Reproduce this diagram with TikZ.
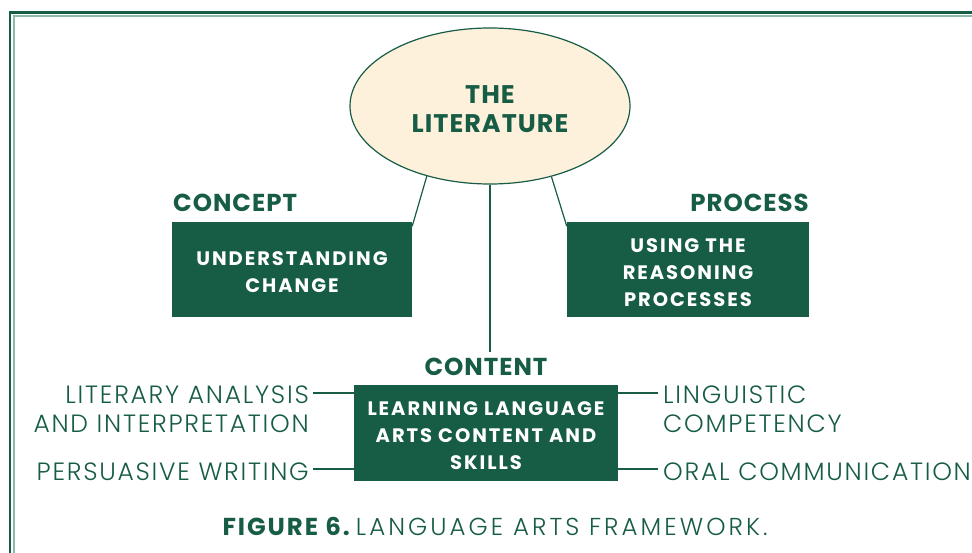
\documentclass[tikz,border=0pt]{standalone}
\usepackage{fontspec}
\setmainfont{Poppins}[LetterSpace=4]
\newfontfamily\lightfont{Poppins Light}[LetterSpace=7]
\newfontfamily\captfont{Poppins Light}[LetterSpace=12.5]
\newfontfamily\captbold{Poppins}[LetterSpace=8]
\newfontfamily\trackfont{Poppins}[LetterSpace=10]
\usetikzlibrary{shapes.geometric}
\definecolor{dgreen}{RGB}{23,92,69}
\definecolor{lgreen}{RGB}{140,186,165}
\definecolor{cream}{RGB}{253,241,220}
\newcommand\topfix[1]{\rule{0pt}{#1}}
\begin{document}
\begin{tikzpicture}[x=1pt,y=-1pt,
  greenbox/.style={rectangle, fill=dgreen, text=white, align=center,
    font=\trackfont\bfseries\fontsize{19.5}{27}\selectfont, inner sep=0pt},
  heading/.style={text=dgreen, font=\bfseries\fontsize{24.5}{24.5}\selectfont, inner sep=0pt},
  item/.style={text=dgreen, font=\lightfont\fontsize{25}{29}\selectfont, inner sep=0pt},
  link/.style={draw=dgreen, line width=1.2pt}]
\useasboundingbox (0,0) rectangle (972,553);
\fill[white] (0,0) rectangle (972,553);
% frame
\draw[dgreen, line width=2.5pt] (10,560) -- (10,12.5) -- (980,12.5);
\draw[lgreen, line width=1.5pt] (14,560) -- (14,16) -- (980,16);
% ellipse
\node[ellipse, draw=dgreen, fill=cream, line width=1.2pt, inner sep=0pt,
  minimum width=280pt, minimum height=156pt, align=center, text=dgreen,
  font=\bfseries\fontsize{25.5}{29}\selectfont] (lit) at (490,106) {\topfix{24pt}THE\\LITERATURE};
% boxes
\node[greenbox, minimum width=240pt, minimum height=95pt] (cbox) at (292,269.5) {\topfix{20pt}UNDERSTANDING\\CHANGE};
\node[greenbox, minimum width=242pt, minimum height=95pt] (pbox) at (688,269.5) {\topfix{20pt}USING THE\\REASONING\\PROCESSES};
\node[greenbox, minimum width=264pt, minimum height=96pt] (tbox) at (486,433) {\topfix{20pt}LEARNING LANGUAGE\\ARTS CONTENT AND\\SKILLS};
% headings
\node[heading, anchor=base west] (chead) at (173,212) {CONCEPT};
\node[heading, anchor=base east] (phead) at (809,212) {PROCESS};
\node[heading, anchor=base] (thead) at (486,375) {CONTENT};
% connectors from ellipse
\draw[link] (lit.228.4) -- ([yshift=-4.5pt]cbox.north east);
\draw[link] (lit.311.1) -- ([yshift=-4.5pt]pbox.north west);
\draw[link] (lit.south) -- ([yshift=5pt]lit.south |- thead.north);
% side items
\node[item, anchor=base east] (la1) at (309,403) {LITERARY ANALYSIS};
\node[item, anchor=base east] (la2) at (309,432) {AND INTERPRETATION};
\node[item, anchor=base east] (pw) at (309,480) {PERSUASIVE WRITING};
\node[item, anchor=base west] (lc1) at (663,403) {LINGUISTIC};
\node[item, anchor=base west] (lc2) at (663,432) {COMPETENCY};
\node[item, anchor=base west] (oc) at (663,480) {ORAL COMMUNICATION};
\coordinate (laend) at (313,393);
\coordinate (pwend) at (313,469);
\coordinate (lcend) at (658,393);
\coordinate (ocend) at (658,469);
\draw[link] (laend) -- (laend -| tbox.west);
\draw[link] (pwend) -- (pwend -| tbox.west);
\draw[link] (lcend) -- (lcend -| tbox.east);
\draw[link] (ocend) -- (ocend -| tbox.east);
% caption
\node[heading, anchor=base] (cap) at (495,535) {{\captbold\bfseries FIGURE 6.}\ {\captfont\mdseries LANGUAGE ARTS FRAMEWORK.}};
\end{tikzpicture}
\end{document}
